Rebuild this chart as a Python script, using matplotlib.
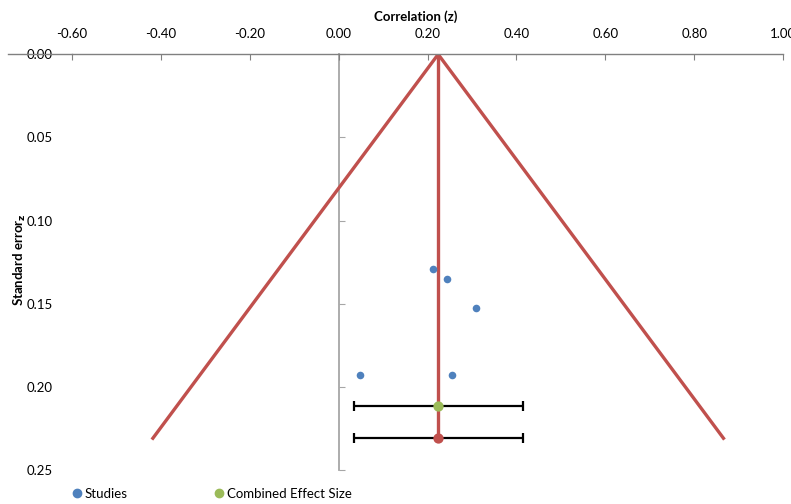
import matplotlib
matplotlib.use("Agg")
import matplotlib.pyplot as plt
from matplotlib.lines import Line2D

plt.rcParams['font.family'] = ['Lato', 'DejaVu Sans']

# Data
study_z = [0.212, 0.243, 0.309, 0.048, 0.256]
study_se = [0.1293, 0.1349, 0.1527, 0.193, 0.193]
combined_z = 0.223
combined_se_green = 0.2115
combined_se_red = 0.2309
ci_low, ci_high = 0.0345, 0.416
funnel_x = [-0.418, 0.224, 0.866]
funnel_y = [0.2309, 0.0, 0.2309]
xticks = [-0.6, -0.4, -0.2, 0.0, 0.2, 0.4, 0.6, 0.8, 1.0]
yticks = [0.0, 0.05, 0.10, 0.15, 0.20, 0.25]

blue = '#4F81BD'
red = '#C0504D'
green = '#9BBB59'
axis_grey = '#A6A6A6'

fig = plt.figure(figsize=(7.91, 5.04), dpi=100)
ax = fig.add_axes([72/791, 1-470/504, (783-72)/791, (470-54.3)/504])

ax.set_xlim(-0.6, 1.0)
ax.set_ylim(0.25, 0.0)

# funnel
ax.plot(funnel_x, funnel_y, color=red, lw=2.4, zorder=2)
ax.plot([combined_z, combined_z], [0.0, combined_se_red], color=red, lw=2.4, zorder=2)

# error bars
ax.errorbar([combined_z], [combined_se_green], xerr=[[combined_z-ci_low], [ci_high-combined_z]],
            fmt='none', ecolor='black', elinewidth=1.6, capsize=3.5, capthick=1.6, zorder=3)
ax.errorbar([combined_z], [combined_se_red], xerr=[[combined_z-ci_low], [ci_high-combined_z]],
            fmt='none', ecolor='black', elinewidth=1.6, capsize=3.5, capthick=1.6, zorder=3)

ax.scatter(study_z, study_se, s=30, color=blue, zorder=4, linewidths=0)
ax.scatter([combined_z], [combined_se_green], s=55, color=green, zorder=5, linewidths=0)
ax.scatter([combined_z], [combined_se_red], s=55, color=red, zorder=5, linewidths=0)

# axes styling
for s in ['left', 'right', 'bottom']:
    ax.spines[s].set_visible(False)
ax.spines['top'].set_color('#808080')
ax.spines['top'].set_linewidth(1.0)
ax.xaxis.set_ticks_position('top')
ax.xaxis.set_label_position('top')
ax.set_xticks(xticks)
ax.set_xticklabels([f"{v:.2f}" for v in xticks])
ax.tick_params(axis='x', direction='in', length=4, color='#808080', pad=10, labelsize=9.5)
ax.set_yticks(yticks)
ax.set_yticklabels([f"{v:.2f}" for v in yticks])
ax.tick_params(axis='y', length=0, pad=14, labelsize=9.5)

# extend top line to the left
ax.plot([-0.09, 0], [1, 1], transform=ax.transAxes, clip_on=False, color='#808080', lw=1.0)

# vertical axis at x=0
sec = ax.secondary_yaxis((0 - (-0.6)) / 1.6)
sec.set_yticks(yticks)
sec.set_yticklabels([])
sec.tick_params(direction='in', length=4, color=axis_grey)
sec.spines['left'].set_color(axis_grey)
sec.spines['left'].set_linewidth(1.3)

fig.text(416/791, 1-17/504, 'Correlation (z)', ha='center', va='center', fontsize=9.5, fontweight='bold')
fig.text(20/791, 1-260/504, r'Standard error$_\mathbf{z}$', ha='center', va='center',
         rotation=90, fontsize=9.5, fontweight='bold')

handles = [Line2D([], [], marker='o', ls='none', color=blue, markersize=6),
           Line2D([], [], marker='o', ls='none', color=green, markersize=6)]
fig.legend(handles, ['Studies', 'Combined Effect Size'], loc='center left',
           bbox_to_anchor=(73/791, 1-494/504), ncol=2, frameon=False, fontsize=9.5,
           handlelength=0.6, handletextpad=0.3, columnspacing=6.6, borderpad=0, borderaxespad=0)

fig.savefig('out.png', dpi=100)
